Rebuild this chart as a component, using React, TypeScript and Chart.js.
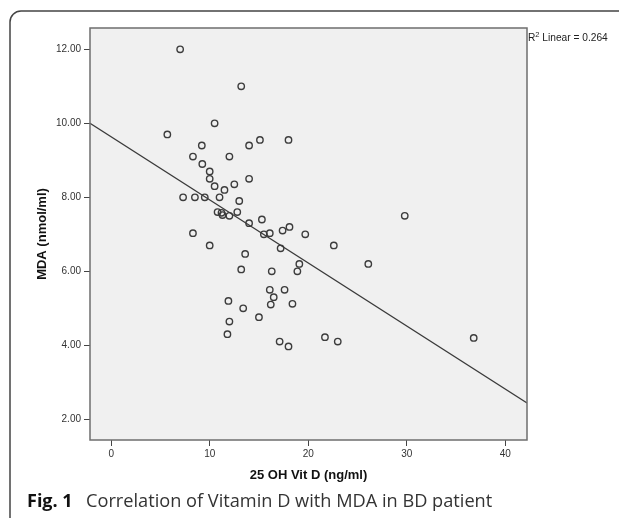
import { useEffect, useRef } from "react";
import { Chart, registerables } from "chart.js";

Chart.register(...registerables);

// ---- data ----
const vitD = [
  7.0, 13.2, 10.5, 5.7, 9.2, 14.0, 15.1, 18.0, 8.3, 12.0,
  9.25, 10.0, 10.0, 14.0, 10.5, 12.5, 11.5, 7.3, 8.5, 9.5,
  11.0, 13.0, 10.8, 11.2, 11.3, 12.0, 12.8, 14.0, 15.3, 15.5,
  16.1, 17.4, 18.1, 19.7, 8.3, 10.0, 13.6, 17.2, 19.1, 13.2,
  16.3, 18.9, 26.1, 16.1, 17.6, 16.5, 16.2, 18.4, 11.9, 13.4,
  15.0, 12.0, 11.8, 17.1, 18.0, 21.7, 23.0, 29.8, 22.6, 36.8,
];
const mda = [
  12.0, 11.0, 10.0, 9.7, 9.4, 9.4, 9.55, 9.55, 9.1, 9.1,
  8.9, 8.7, 8.5, 8.5, 8.3, 8.35, 8.2, 8.0, 8.0, 8.0,
  8.0, 7.9, 7.6, 7.58, 7.52, 7.5, 7.6, 7.3, 7.4, 7.0,
  7.03, 7.1, 7.2, 7.0, 7.03, 6.7, 6.47, 6.62, 6.2, 6.05,
  6.0, 6.0, 6.2, 5.5, 5.5, 5.3, 5.1, 5.12, 5.2, 5.0,
  4.76, 4.64, 4.3, 4.1, 3.97, 4.22, 4.1, 7.5, 6.7, 4.2,
];
const fitX = [-2.15, 42.21];
const fitY = [10.0, 2.44];
const xTicks = [0, 10, 20, 30, 40];
const yTicks = [2, 4, 6, 8, 10, 12];
const xTitle = "25 OH Vit D (ng/ml)";
const yTitle = "MDA (nmol/ml)";
const r2Value = "0.264";
const captionBold = "Fig. 1";
const captionText = "Correlation of Vitamin D with MDA in BD patient";

const W = 619;
const H = 521;

export default function App() {
  const ref = useRef<HTMLCanvasElement | null>(null);

  useEffect(() => {
    document.body.style.margin = "0";
    const canvas = ref.current;
    if (!canvas) return;

    const decor = {
      id: "decor",
      beforeDraw(chart: any) {
        const { ctx, chartArea: a } = chart;
        ctx.save();
        ctx.fillStyle = "#ffffff";
        ctx.fillRect(0, 0, chart.width, chart.height);
        ctx.fillStyle = "#f0f0f0";
        ctx.fillRect(a.left, a.top, a.right - a.left, a.bottom - a.top);
        ctx.restore();
      },
      afterDraw(chart: any) {
        const { ctx, chartArea: a } = chart;
        ctx.save();
        // plot frame
        ctx.strokeStyle = "#6e6e6e";
        ctx.lineWidth = 1.5;
        ctx.strokeRect(a.left, a.top, a.right - a.left, a.bottom - a.top);

        // R² label
        ctx.fillStyle = "#222";
        ctx.textBaseline = "alphabetic";
        ctx.textAlign = "left";
        let x = a.right + 1;
        const by = 41;
        ctx.font = "10.2px 'Liberation Sans', Arial, sans-serif";
        ctx.fillText("R", x, by);
        x += ctx.measureText("R").width;
        ctx.font = "7.5px 'Liberation Sans', Arial, sans-serif";
        ctx.fillText("2", x, by - 4);
        x += ctx.measureText("2").width;
        ctx.font = "10.2px 'Liberation Sans', Arial, sans-serif";
        ctx.fillText(" Linear = " + r2Value, x, by);

        // figure frame (rounded top-left corner)
        const fx = 10, fy = 11, r = 11;
        ctx.strokeStyle = "#444";
        ctx.lineWidth = 1.5;
        ctx.beginPath();
        ctx.moveTo(fx, 518);
        ctx.lineTo(fx, fy + r);
        ctx.arcTo(fx, fy, fx + r, fy, r);
        ctx.lineTo(W + 5, fy);
        ctx.stroke();

        // caption
        ctx.fillStyle = "#111";
        ctx.font = "bold 18px 'Open Sans', 'Noto Sans', sans-serif";
        ctx.fillText(captionBold, 27, 507);
        ctx.fillStyle = "#333";
        ctx.font = "18.2px 'Open Sans', 'Noto Sans', sans-serif";
        ctx.fillText(captionText, 86, 507);
        ctx.restore();
      },
    };

    const tickFont = { family: "'Liberation Sans', Arial, sans-serif", size: 10 };
    const titleFont = { family: "'Liberation Sans', Arial, sans-serif", size: 13, weight: "bold" as const };

    const chart = new Chart(canvas, {
      type: "scatter",
      data: {
        datasets: [
          {
            type: "line",
            data: fitX.map((v, i) => ({ x: v, y: fitY[i] })),
            borderColor: "#3a3a3a",
            borderWidth: 1.3,
            pointRadius: 0,
            fill: false,
            tension: 0,
          } as any,
          {
            data: vitD.map((v, i) => ({ x: v, y: mda[i] })),
            pointRadius: 3.2,
            pointBorderWidth: 1.4,
            pointBackgroundColor: "rgba(0,0,0,0)",
            pointBorderColor: "#3c3c3c",
            borderColor: "#3c3c3c",
            backgroundColor: "rgba(0,0,0,0)",
          },
        ],
      },
      options: {
        animation: false,
        responsive: false,
        maintainAspectRatio: false,
        devicePixelRatio: 1,
        events: [],
        layout: { padding: { left: 0, top: 28, right: W - 527, bottom: 31 } },
        plugins: { legend: { display: false }, tooltip: { enabled: false } },
        scales: {
          x: {
            type: "linear",
            min: fitX[0],
            max: fitX[1],
            afterBuildTicks: (s: any) => {
              s.ticks = xTicks.map((v) => ({ value: v }));
            },
            afterFit: (s: any) => {
              s.height = 50;
            },
            grid: { drawOnChartArea: false, drawTicks: true, tickLength: 6, color: "#444", lineWidth: 1 },
            border: { display: false },
            ticks: { font: tickFont, color: "#333", padding: 2, maxRotation: 0, autoSkip: false },
            title: { display: true, text: xTitle, font: titleFont, color: "#111", padding: { top: 0, bottom: 6.5 } },
          },
          y: {
            type: "linear",
            min: 1.44,
            max: 12.576,
            afterBuildTicks: (s: any) => {
              s.ticks = yTicks.map((v) => ({ value: v }));
            },
            afterFit: (s: any) => {
              s.width = 90;
            },
            grid: { drawOnChartArea: false, drawTicks: true, tickLength: 6, color: "#444", lineWidth: 1 },
            border: { display: false },
            ticks: {
              font: tickFont,
              color: "#333",
              padding: 3,
              autoSkip: false,
              callback: (v: any) => Number(v).toFixed(2),
            },
            title: { display: true, text: yTitle, font: titleFont, color: "#111", padding: { top: 34.5, bottom: 0 } },
          },
        },
      },
      plugins: [decor],
    });

    return () => chart.destroy();
  }, []);

  return (
    <div style={{ position: "absolute", left: 0, top: 0, width: W, height: H }}>
      <canvas ref={ref} width={W} height={H} style={{ display: "block", width: W, height: H }} />
    </div>
  );
}
